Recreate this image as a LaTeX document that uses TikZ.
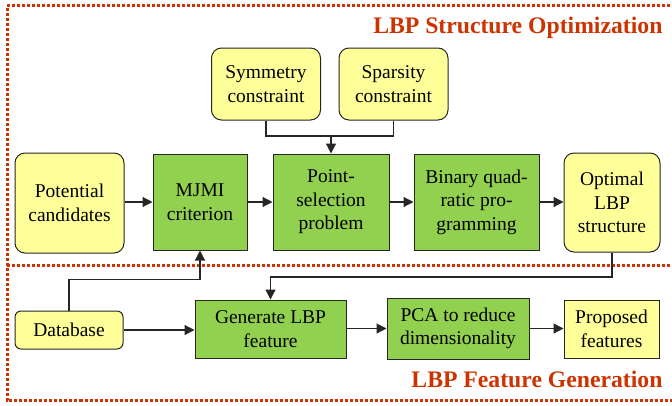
\documentclass[tikz,border=0pt]{standalone}
\usepackage{fontspec}
\setmainfont{Liberation Serif}
\usetikzlibrary{arrows.meta}

\definecolor{lbpred}{RGB}{204,51,0}
\definecolor{lbpyellow}{RGB}{255,255,153}
\definecolor{lbpgreen}{RGB}{146,208,80}

\begin{document}
\begin{tikzpicture}[x=1pt,y=-1pt,
    box/.style={draw=black!85, line width=1pt, align=center, inner sep=0pt,
        font=\fontsize{19.5}{23.5}\selectfont},
    softbox/.style={box, fill=lbpyellow, rounded corners=10pt},
    stepbox/.style={box, fill=lbpgreen},
    link/.style={draw=black!85, line width=1.2pt},
    arrow/.style={link, -{Triangle[length=10pt,width=10pt]}},
    region/.style={draw=lbpred, line width=3pt, dash pattern=on 3pt off 2pt},
    title/.style={text=lbpred, font=\fontsize{23.7}{28}\selectfont\bfseries}]
    \useasboundingbox (0,0) rectangle (672,405);

    % Dotted region borders
    \begin{scope}
        \clip (0,0) rectangle (672,405);
        \draw[region] (680,5.5) -- (7,5.5) -- (7,400) -- (680,400);
        \draw[region] (7,265) -- (680,265);
    \end{scope}

    % Region titles
    \node[title, anchor=base east] (ttop) at (666,33) {LBP Structure Optimization};
    \node[title, anchor=base east] (tbot) at (666,387) {LBP Feature Generation};

    % Structure optimization
    \node[softbox, minimum width=109pt, minimum height=72pt] (sym) at (266,84) {Symmetry\\constraint};
    \node[softbox, minimum width=109pt, minimum height=72pt] (spa) at (393.5,84) {Sparsity\\constraint};
    \node[softbox, minimum width=109pt, minimum height=100pt] (pot) at (69.5,203) {Potential\\candidates};
    \node[stepbox, minimum width=94pt, minimum height=96pt] (mjmi) at (200,202) {MJMI\\criterion};
    \node[stepbox, minimum width=116pt, minimum height=96pt] (point) at (331,202) {Point-\\selection\\problem};
    \node[stepbox, minimum width=125pt, minimum height=96pt] (bqp) at (476.5,202) {Binary quad-\\ratic pro-\\gramming};
    \node[softbox, minimum width=96pt, minimum height=99pt] (opt) at (612,202.5) {Optimal\\LBP\\structure};

    % Feature generation
    \node[softbox, rounded corners=6pt, minimum width=108pt, minimum height=38pt] (db) at (69,330) {Database};
    \node[stepbox, minimum width=151pt, minimum height=58pt] (gen) at (270.5,329) {Generate LBP\\feature};
    \node[stepbox, minimum width=142pt, minimum height=61pt] (pca) at (458,328.5) {PCA to reduce\\dimensionality};
    \node[box, fill=lbpyellow, minimum width=95pt, minimum height=58pt] (prop) at (611.5,329) {Proposed\\features};

    % Connectors
    \coordinate (merge) at (331,136);
    \draw[link] (sym.south) |- (merge);
    \draw[link] (spa.south) |- (merge);
    \draw[arrow] (merge) -- (point.north);
    \draw[arrow] (pot.east |- mjmi.east) -- (mjmi.east -| mjmi.west);
    \draw[arrow] (mjmi.east) -- (point.west);
    \draw[arrow] (point.east) -- (bqp.west);
    \draw[arrow] (bqp.east) -- (opt.west |- bqp.east);
    \draw[arrow] (opt.south) -- ++(0,24.5) -| (gen.north);
    \draw[arrow] (db.north) -- ++(0,-31) -| (mjmi.south);
    \draw[arrow] (db.east) -- (gen.west |- db.east);
    \draw[arrow] (gen.east |- pca.west) -- (pca.west);
    \draw[arrow] (pca.east) -- (prop.west |- pca.east);
\end{tikzpicture}
\end{document}
